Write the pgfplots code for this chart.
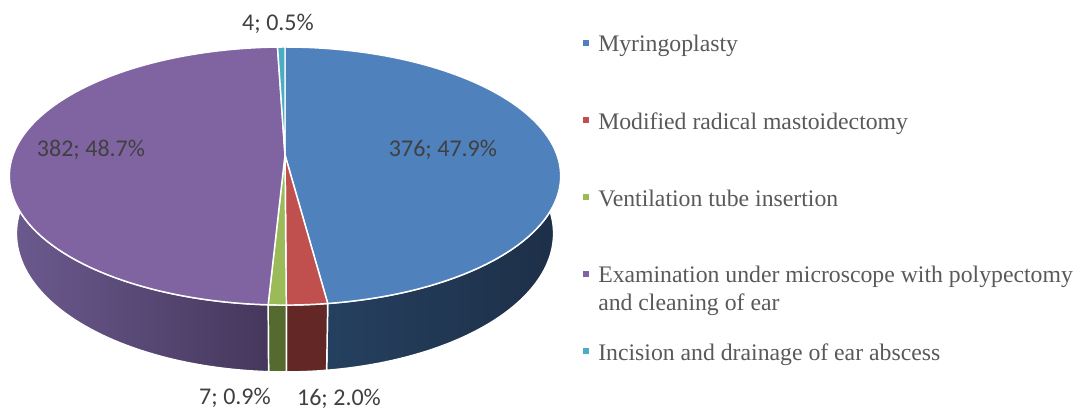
\documentclass[border=0pt]{standalone}
\usepackage{pgfplots}
\pgfplotsset{compat=1.18}
\usepackage{pgfplotstable}
\usepackage{fontspec}
\setmainfont{Liberation Serif}
\newfontfamily\labfont{Carlito}
\definecolor{cMyr}{HTML}{4F81BD}
\definecolor{cMyrSL}{HTML}{25405F}
\definecolor{cMyrSR}{HTML}{1D2F47}
\definecolor{cMRM}{HTML}{C0504D}
\definecolor{cMRMS}{HTML}{632826}
\definecolor{cVent}{HTML}{9BBB59}
\definecolor{cVentS}{HTML}{556A2F}
\definecolor{cEUM}{HTML}{8064A2}
\definecolor{cEUMSL}{HTML}{6C5A8F}
\definecolor{cEUMSR}{HTML}{45375C}
\definecolor{cInc}{HTML}{4BACC6}
\definecolor{labgray}{HTML}{404040}
\definecolor{leggray}{HTML}{595959}
\pgfplotstableread{
label value
Myringoplasty 376
MRM 16
Ventilation 7
EUM 382
Incision 4
}\piedata
\begin{document}
\begin{tikzpicture}[declare function={
  px(\t)=285+272*sin(\t)/(1+0.163*cos(\t));
  py(\t)=155-125.6*cos(\t)/(1+0.163*cos(\t));
  pbx(\t)=285+265*sin(\t)/(1+0.163*cos(\t));
  pb(\t)=155-125.6*cos(\t)/(1+0.163*cos(\t))+56/(1+0.163*cos(\t));
}]
\pgfplotstablegetelem{0}{value}\of\piedata \pgfmathsetmacro\vA{\pgfplotsretval}
\pgfplotstablegetelem{1}{value}\of\piedata \pgfmathsetmacro\vB{\pgfplotsretval}
\pgfplotstablegetelem{2}{value}\of\piedata \pgfmathsetmacro\vC{\pgfplotsretval}
\pgfplotstablegetelem{3}{value}\of\piedata \pgfmathsetmacro\vD{\pgfplotsretval}
\pgfplotstablegetelem{4}{value}\of\piedata \pgfmathsetmacro\vE{\pgfplotsretval}
\pgfmathsetmacro\tot{\vA+\vB+\vC+\vD+\vE}
\pgfmathsetmacro\angA{\vA/\tot*360}
\pgfmathsetmacro\angB{(\vA+\vB)/\tot*360}
\pgfmathsetmacro\angC{(\vA+\vB+\vC)/\tot*360}
\pgfmathsetmacro\angD{(\vA+\vB+\vC+\vD)/\tot*360}
\begin{axis}[x=0.75pt, y=0.75pt, xmin=0, xmax=1080, ymin=0, ymax=410,
  y dir=reverse, hide axis, clip=false, scale only axis]
% side walls
\shadedraw[left color=cMyrSL, right color=cMyrSR, draw=white, line width=1.1pt, line join=round]
  plot[domain=90:\angA, samples=60, variable=\t] ({px(\t)},{py(\t)})
  -- plot[domain=\angA:90, samples=60, variable=\t] ({pbx(\t)},{pb(\t)}) -- cycle;
\filldraw[fill=cMRMS, draw=white, line width=1.1pt, line join=round]
  plot[domain=\angA:\angB, samples=10, variable=\t] ({px(\t)},{py(\t)})
  -- plot[domain=\angB:\angA, samples=10, variable=\t] ({pbx(\t)},{pb(\t)}) -- cycle;
\filldraw[fill=cVentS, draw=white, line width=1.1pt, line join=round]
  plot[domain=\angB:\angC, samples=6, variable=\t] ({px(\t)},{py(\t)})
  -- plot[domain=\angC:\angB, samples=6, variable=\t] ({pbx(\t)},{pb(\t)}) -- cycle;
\shadedraw[left color=cEUMSL, right color=cEUMSR, draw=white, line width=1.1pt, line join=round]
  plot[domain=\angC:270, samples=60, variable=\t] ({px(\t)},{py(\t)})
  -- plot[domain=270:\angC, samples=60, variable=\t] ({pbx(\t)},{pb(\t)}) -- cycle;
% top faces
\filldraw[fill=cMyr, draw=white, line width=1.1pt, line join=round]
  (285,155) -- plot[domain=0:\angA, samples=90, variable=\t] ({px(\t)},{py(\t)}) -- cycle;
\filldraw[fill=cMRM, draw=white, line width=1.1pt, line join=round]
  (285,155) -- plot[domain=\angA:\angB, samples=10, variable=\t] ({px(\t)},{py(\t)}) -- cycle;
\filldraw[fill=cVent, draw=white, line width=1.1pt, line join=round]
  (285,155) -- plot[domain=\angB:\angC, samples=6, variable=\t] ({px(\t)},{py(\t)}) -- cycle;
\filldraw[fill=cEUM, draw=white, line width=1.1pt, line join=round]
  (285,155) -- plot[domain=\angC:\angD, samples=90, variable=\t] ({px(\t)},{py(\t)}) -- cycle;
\filldraw[fill=cInc, draw=white, line width=1.1pt, line join=round]
  (285,155) -- plot[domain=\angD:360, samples=6, variable=\t] ({px(\t)},{py(\t)}) -- cycle;
% data labels
\begin{scope}[every node/.style={font=\labfont\fontsize{18}{22}\selectfont, text=labgray, inner sep=0pt}]
\node at (443,150) {376; 47.9\%};
\node at (91,150) {382; 48.7\%};
\node at (278,24) {4; 0.5\%};
\node at (235,398) {7; 0.9\%};
\node at (339,399) {16; 2.0\%};
\end{scope}
% legend
\begin{scope}[every node/.style={font=\fontsize{17.8}{21}\selectfont, text=leggray, inner sep=0pt, anchor=base west}]
\fill[cMyr] (583,40) rectangle (589,46);
\node at (598,51.7) {Myringoplasty};
\fill[cMRM] (583,117.3) rectangle (589,123.3);
\node at (598,129) {Modified radical mastoidectomy};
\fill[cVent] (583,194.3) rectangle (589,200.3);
\node at (598,206) {Ventilation tube insertion};
\fill[cEUM] (583,270.6) rectangle (589,276.6);
\node at (598,282.3) {Examination under microscope with polypectomy};
\node at (598,310) {and cleaning of ear};
\fill[cInc] (583,348.3) rectangle (589,354.3);
\node at (598,360) {Incision and drainage of ear abscess};
\end{scope}
\end{axis}
\pgfresetboundingbox
\path (current axis.south west) rectangle (current axis.north east);
\end{tikzpicture}
\end{document}
